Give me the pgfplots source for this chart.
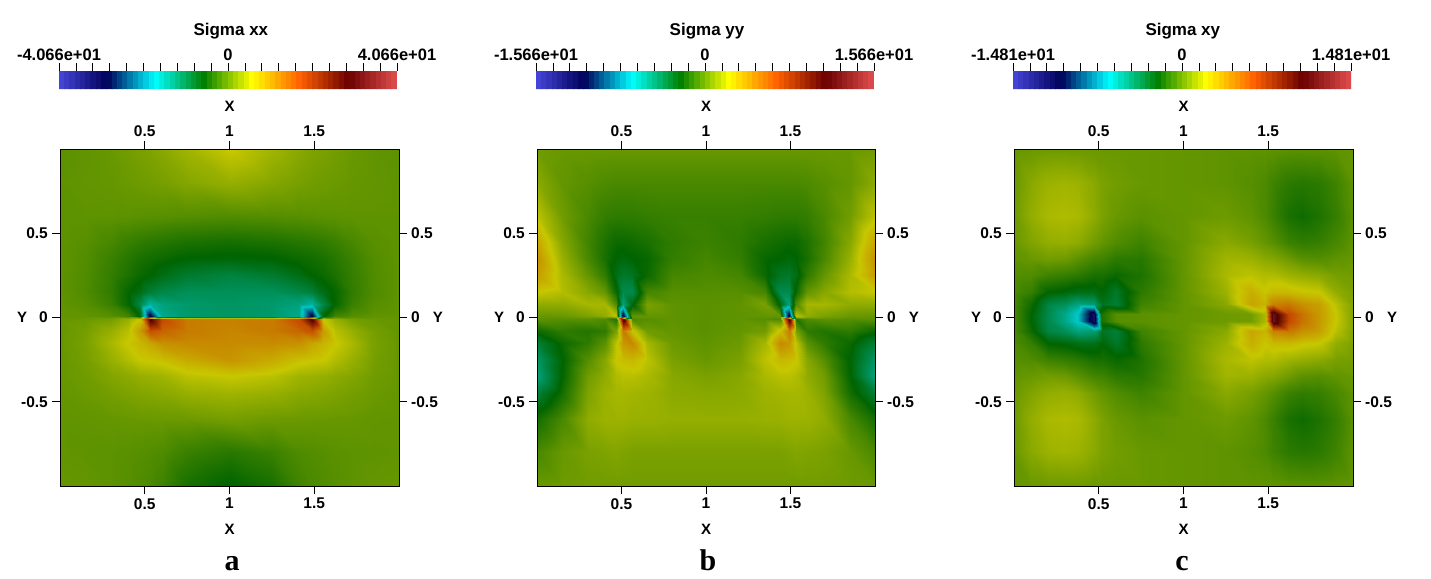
\documentclass[border=0pt]{standalone}
\usepackage{fontspec}
\setmainfont{Liberation Sans}
\newfontfamily\capfont{Liberation Serif}
\usepackage{pgfplots}
\usepackage{pgfplotstable}
\pgfplotsset{compat=1.18}

% colour bar map, and the same map dimmed by the lighting for the fields
\pgfplotsset{
  colormap={bright}{rgb255=(71,71,219) rgb255=(0,0,91) rgb255=(0,255,255) rgb255=(0,128,0) rgb255=(255,255,0) rgb255=(255,97,0) rgb255=(107,0,0) rgb255=(224,77,77)},
  colormap={dim}{rgb255=(55,55,171) rgb255=(0,0,71) rgb255=(0,199,199) rgb255=(0,100,0) rgb255=(199,199,0) rgb255=(199,76,0) rgb255=(83,0,0) rgb255=(175,60,60)},
  panel/.style={
    scale only axis, xmin=0, xmax=2, ymin=-1, ymax=1,
    xtick={0.5,1,1.5}, xticklabels={0.5,1,1.5},
    ytick={-0.5,0,0.5}, yticklabels={-0.5,0,0.5},
    tick align=outside, major tick length=8pt,
    tick style={black, line width=0.8pt},
    axis line style={black, line width=0.9pt},
    tick label style={font=\fontsize{15.5}{15.5}\selectfont\bfseries, inner sep=4pt},
    label style={font=\fontsize{15}{15}\selectfont\bfseries},
  },
  bar/.style={
    colorbar horizontal,
    colormap name=bright,
    colorbar sampled={surf, shader=flat, samples=65},
    colorbar style={
      scale only axis, at={(-0.003,1.178)}, anchor=south west,
      height=18pt,
      xtick pos=upper, xticklabel pos=upper, ytick=\empty,
      tick align=outside, major tick length=8pt,
      tick style={black, line width=0.7pt},
      axis line style={draw=none},
      xticklabel style={font=\fontsize{16.5}{16.5}\selectfont\bfseries, inner sep=2pt},
    },
  },
}

\pgfplotstableread[row sep=crcr]{
x y v\\
0 1 -0.5\\0.15 1 -0.2\\0.3 1 0.3\\0.4 1 0.9\\0.47 1 1.3\\0.53 1 1.6\\0.6 1 2.2\\0.75 1 3.6\\1 1 6\\1.25 1 3.6\\1.41 1 2.2\\1.485 1 1.6\\1.55 1 1.3\\1.62 1 0.9\\1.72 1 0.3\\1.85 1 -0.2\\2 1 -0.5\\
0 0.8 -0.3\\0.15 0.8 -0.1\\0.3 0.8 0.1\\0.4 0.8 0.4\\0.47 0.8 0.6\\0.53 0.8 0.8\\0.6 0.8 1.1\\0.75 0.8 1.9\\1 0.8 2.9\\1.25 0.8 1.9\\1.41 0.8 1.1\\1.485 0.8 0.8\\1.55 0.8 0.6\\1.62 0.8 0.4\\1.72 0.8 0.1\\1.85 0.8 -0.1\\2 0.8 -0.3\\
0 0.6 -0.3\\0.15 0.6 -0.3\\0.3 0.6 -0.3\\0.4 0.6 -0.4\\0.47 0.6 -0.5\\0.53 0.6 -0.6\\0.6 0.6 -0.7\\0.75 0.6 -0.9\\1 0.6 -1.1\\1.25 0.6 -0.9\\1.41 0.6 -0.7\\1.485 0.6 -0.6\\1.55 0.6 -0.5\\1.62 0.6 -0.4\\1.72 0.6 -0.3\\1.85 0.6 -0.3\\2 0.6 -0.3\\
0 0.45 -0.3\\0.15 0.45 -0.7\\0.3 0.45 -1.7\\0.4 0.45 -2.6\\0.47 0.45 -3.1\\0.53 0.45 -3.4\\0.6 0.45 -3.7\\0.75 0.45 -4.2\\1 0.45 -4.6\\1.25 0.45 -4.2\\1.41 0.45 -3.7\\1.485 0.45 -3.4\\1.55 0.45 -3.1\\1.62 0.45 -2.6\\1.72 0.45 -1.7\\1.85 0.45 -0.7\\2 0.45 -0.3\\
0 0.35 -0.3\\0.15 0.35 -1\\0.3 0.35 -2.5\\0.4 0.35 -3.6\\0.47 0.35 -4.4\\0.53 0.35 -4.8\\0.6 0.35 -5.2\\0.75 0.35 -6\\1 0.35 -6.3\\1.25 0.35 -6\\1.41 0.35 -5.2\\1.485 0.35 -4.8\\1.55 0.35 -4.4\\1.62 0.35 -3.6\\1.72 0.35 -2.5\\1.85 0.35 -1\\2 0.35 -0.3\\
0 0.25 -0.3\\0.15 0.25 -1.1\\0.3 0.25 -2.8\\0.4 0.25 -4.2\\0.47 0.25 -5.2\\0.53 0.25 -5.8\\0.6 0.25 -7\\0.75 0.25 -8.5\\1 0.25 -9.5\\1.25 0.25 -8.5\\1.41 0.25 -7\\1.485 0.25 -5.8\\1.55 0.25 -5.2\\1.62 0.25 -4.2\\1.72 0.25 -2.8\\1.85 0.25 -1.1\\2 0.25 -0.3\\
0 0.15 -0.3\\0.15 0.15 -1.2\\0.3 0.15 -3\\0.4 0.15 -5.5\\0.47 0.15 -7\\0.53 0.15 -9\\0.6 0.15 -10\\0.75 0.15 -11\\1 0.15 -11\\1.25 0.15 -11\\1.41 0.15 -10\\1.485 0.15 -9\\1.55 0.15 -7\\1.62 0.15 -5.5\\1.72 0.15 -3\\1.85 0.15 -1.2\\2 0.15 -0.3\\
0 0.08 -0.2\\0.15 0.08 -0.8\\0.3 0.08 -2.5\\0.4 0.08 -5.5\\0.47 0.08 -10\\0.53 0.08 -15\\0.6 0.08 -13\\0.75 0.08 -12\\1 0.08 -11.5\\1.25 0.08 -12\\1.41 0.08 -13\\1.485 0.08 -15\\1.55 0.08 -10\\1.62 0.08 -5.5\\1.72 0.08 -2.5\\1.85 0.08 -0.8\\2 0.08 -0.2\\
0 0.006 -0.1\\0.15 0.006 -0.2\\0.3 0.006 -0.8\\0.4 0.006 -2\\0.47 0.006 -6\\0.53 0.006 -30\\0.6 0.006 -14\\0.75 0.006 -12\\1 0.006 -11.5\\1.25 0.006 -12\\1.41 0.006 -14\\1.485 0.006 -30\\1.55 0.006 -6\\1.62 0.006 -2\\1.72 0.006 -0.8\\1.85 0.006 -0.2\\2 0.006 -0.1\\
0 -0.006 0.1\\0.15 -0.006 0.3\\0.3 -0.006 1\\0.4 -0.006 3\\0.47 -0.006 6\\0.53 -0.006 30\\0.6 -0.006 18\\0.75 -0.006 13\\1 -0.006 12.5\\1.25 -0.006 13\\1.41 -0.006 18\\1.485 -0.006 30\\1.55 -0.006 6\\1.62 -0.006 3\\1.72 -0.006 1\\1.85 -0.006 0.3\\2 -0.006 0.1\\
0 -0.08 0\\0.15 -0.08 1\\0.3 -0.08 3\\0.4 -0.08 5\\0.47 -0.08 10\\0.53 -0.08 17\\0.6 -0.08 15\\0.75 -0.08 13\\1 -0.08 12\\1.25 -0.08 13\\1.41 -0.08 15\\1.485 -0.08 17\\1.55 -0.08 10\\1.62 -0.08 5\\1.72 -0.08 3\\1.85 -0.08 1\\2 -0.08 0\\
0 -0.15 0.1\\0.15 -0.15 1.2\\0.3 -0.15 4\\0.4 -0.15 6\\0.47 -0.15 7.5\\0.53 -0.15 9\\0.6 -0.15 11\\0.75 -0.15 11.5\\1 -0.15 11.5\\1.25 -0.15 11.5\\1.41 -0.15 11\\1.485 -0.15 9\\1.55 -0.15 7.5\\1.62 -0.15 6\\1.72 -0.15 4\\1.85 -0.15 1.2\\2 -0.15 0.1\\
0 -0.25 0.1\\0.15 -0.25 1\\0.3 -0.25 3\\0.4 -0.25 4.5\\0.47 -0.25 5.8\\0.53 -0.25 6\\0.6 -0.25 6.5\\0.75 -0.25 8.5\\1 -0.25 10.5\\1.25 -0.25 8.5\\1.41 -0.25 6.5\\1.485 -0.25 6\\1.55 -0.25 5.8\\1.62 -0.25 4.5\\1.72 -0.25 3\\1.85 -0.25 1\\2 -0.25 0.1\\
0 -0.35 0.1\\0.15 -0.35 0.7\\0.3 -0.35 1.8\\0.4 -0.35 2.4\\0.47 -0.35 2.9\\0.53 -0.35 3.2\\0.6 -0.35 3.5\\0.75 -0.35 5\\1 -0.35 5.8\\1.25 -0.35 5\\1.41 -0.35 3.5\\1.485 -0.35 3.2\\1.55 -0.35 2.9\\1.62 -0.35 2.4\\1.72 -0.35 1.8\\1.85 -0.35 0.7\\2 -0.35 0.1\\
0 -0.45 0\\0.15 -0.45 0.4\\0.3 -0.45 1\\0.4 -0.45 1.5\\0.47 -0.45 1.8\\0.53 -0.45 2\\0.6 -0.45 2.2\\0.75 -0.45 3\\1 -0.45 3.5\\1.25 -0.45 3\\1.41 -0.45 2.2\\1.485 -0.45 2\\1.55 -0.45 1.8\\1.62 -0.45 1.5\\1.72 -0.45 1\\1.85 -0.45 0.4\\2 -0.45 0\\
0 -0.6 -0.2\\0.15 -0.6 -0.1\\0.3 -0.6 0.1\\0.4 -0.6 0.2\\0.47 -0.6 0.3\\0.53 -0.6 0.3\\0.6 -0.6 0.4\\0.75 -0.6 0.5\\1 -0.6 1\\1.25 -0.6 0.5\\1.41 -0.6 0.4\\1.485 -0.6 0.3\\1.55 -0.6 0.3\\1.62 -0.6 0.2\\1.72 -0.6 0.1\\1.85 -0.6 -0.1\\2 -0.6 -0.2\\
0 -0.8 -0.2\\0.15 -0.8 -0.3\\0.3 -0.8 -0.4\\0.4 -0.8 -0.6\\0.47 -0.8 -0.8\\0.53 -0.8 -1\\0.6 -0.8 -1.2\\0.75 -0.8 -2.5\\1 -0.8 -3.5\\1.25 -0.8 -2.5\\1.41 -0.8 -1.2\\1.485 -0.8 -1\\1.55 -0.8 -0.8\\1.62 -0.8 -0.6\\1.72 -0.8 -0.4\\1.85 -0.8 -0.3\\2 -0.8 -0.2\\
0 -1 0.2\\0.15 -1 0\\0.3 -1 -0.4\\0.4 -1 -0.8\\0.47 -1 -1.2\\0.53 -1 -1.5\\0.6 -1 -2.2\\0.75 -1 -4.5\\1 -1 -6\\1.25 -1 -4.5\\1.41 -1 -2.2\\1.485 -1 -1.5\\1.55 -1 -1.2\\1.62 -1 -0.8\\1.72 -1 -0.4\\1.85 -1 0\\2 -1 0.2\\
}\tableA

\pgfplotstableread[row sep=crcr]{
x y v\\
0 1 0.3\\0.15 1 0.1\\0.3 1 0.1\\0.4 1 0.1\\0.47 1 0.1\\0.51 1 0.1\\0.56 1 0.1\\0.65 1 0.1\\0.8 1 0.1\\1 1 0.1\\1.2 1 0.1\\1.35 1 0.1\\1.44 1 0.1\\1.49 1 0.1\\1.53 1 0.1\\1.6 1 0.1\\1.7 1 0.1\\1.85 1 0.1\\2 1 0.3\\
0 0.8 0.9\\0.15 0.8 0\\0.3 0.8 -0.3\\0.4 0.8 -0.5\\0.47 0.8 -0.6\\0.51 0.8 -0.6\\0.56 0.8 -0.6\\0.65 0.8 -0.6\\0.8 0.8 -0.6\\1 0.8 -0.6\\1.2 0.8 -0.6\\1.35 0.8 -0.6\\1.44 0.8 -0.6\\1.49 0.8 -0.6\\1.53 0.8 -0.6\\1.6 0.8 -0.5\\1.7 0.8 -0.3\\1.85 0.8 0\\2 0.8 0.9\\
0 0.6 2\\0.15 0.6 0.3\\0.3 0.6 -0.6\\0.4 0.6 -1.1\\0.47 0.6 -1.2\\0.51 0.6 -1.2\\0.56 0.6 -1.2\\0.65 0.6 -1.1\\0.8 0.6 -1\\1 0.6 -1\\1.2 0.6 -1\\1.35 0.6 -1.1\\1.44 0.6 -1.2\\1.49 0.6 -1.2\\1.53 0.6 -1.2\\1.6 0.6 -1.1\\1.7 0.6 -0.6\\1.85 0.6 0.3\\2 0.6 2\\
0 0.45 3.5\\0.15 0.45 0.8\\0.3 0.45 -0.8\\0.4 0.45 -1.6\\0.47 0.45 -2\\0.51 0.45 -2\\0.56 0.45 -1.9\\0.65 0.45 -1.7\\0.8 0.45 -1.2\\1 0.45 -0.9\\1.2 0.45 -1.2\\1.35 0.45 -1.7\\1.44 0.45 -1.9\\1.49 0.45 -2\\1.53 0.45 -2\\1.6 0.45 -1.6\\1.7 0.45 -0.8\\1.85 0.45 0.8\\2 0.45 3.5\\
0 0.35 4.2\\0.15 0.35 1.2\\0.3 0.35 -0.6\\0.4 0.35 -1.7\\0.47 0.35 -2.3\\0.51 0.35 -2.5\\0.56 0.35 -2.3\\0.65 0.35 -2.1\\0.8 0.35 -1.1\\1 0.35 -0.7\\1.2 0.35 -1.1\\1.35 0.35 -2.1\\1.44 0.35 -2.3\\1.49 0.35 -2.5\\1.53 0.35 -2.3\\1.6 0.35 -1.7\\1.7 0.35 -0.6\\1.85 0.35 1.2\\2 0.35 4.2\\
0 0.25 3.8\\0.15 0.25 1.6\\0.3 0.25 0\\0.4 0.25 -1.2\\0.47 0.25 -2.7\\0.51 0.25 -3.2\\0.56 0.25 -3\\0.65 0.25 -2\\0.8 0.25 -0.7\\1 0.25 -0.5\\1.2 0.25 -0.7\\1.35 0.25 -2\\1.44 0.25 -3\\1.49 0.25 -3.2\\1.53 0.25 -2.7\\1.6 0.25 -1.2\\1.7 0.25 0\\1.85 0.25 1.6\\2 0.25 3.8\\
0 0.15 2.2\\0.15 0.15 1.8\\0.3 0.15 0.8\\0.4 0.15 0\\0.47 0.15 -2\\0.51 0.15 -4\\0.56 0.15 -4\\0.65 0.15 -0.7\\0.8 0.15 -0.3\\1 0.15 -0.3\\1.2 0.15 -0.3\\1.35 0.15 -0.7\\1.44 0.15 -4\\1.49 0.15 -4\\1.53 0.15 -2\\1.6 0.15 0\\1.7 0.15 0.8\\1.85 0.15 1.8\\2 0.15 2.2\\
0 0.08 1\\0.15 0.08 1\\0.3 0.08 1.5\\0.4 0.08 1.5\\0.47 0.08 -0.5\\0.51 0.08 -5\\0.56 0.08 -2.5\\0.65 0.08 0.5\\0.8 0.08 -0.1\\1 0.08 -0.2\\1.2 0.08 -0.1\\1.35 0.08 0.5\\1.44 0.08 -2.5\\1.49 0.08 -5\\1.53 0.08 -0.5\\1.6 0.08 1.5\\1.7 0.08 1.5\\1.85 0.08 1\\2 0.08 1\\
0 0.006 0\\0.15 0.006 0.1\\0.3 0.006 0.5\\0.4 0.006 1\\0.47 0.006 2\\0.51 0.006 -12\\0.56 0.006 0\\0.65 0.006 0\\0.8 0.006 -0.1\\1 0.006 -0.2\\1.2 0.006 -0.1\\1.35 0.006 0\\1.44 0.006 0\\1.49 0.006 -12\\1.53 0.006 2\\1.6 0.006 1\\1.7 0.006 0.5\\1.85 0.006 0.1\\2 0.006 0\\
0 -0.006 -0.2\\0.15 -0.006 -0.3\\0.3 -0.006 -0.2\\0.4 -0.006 -0.5\\0.47 -0.006 -1.5\\0.51 -0.006 12\\0.56 -0.006 -0.5\\0.65 -0.006 -0.3\\0.8 -0.006 -0.1\\1 -0.006 -0.2\\1.2 -0.006 -0.1\\1.35 -0.006 -0.3\\1.44 -0.006 -0.5\\1.49 -0.006 12\\1.53 -0.006 -1.5\\1.6 -0.006 -0.5\\1.7 -0.006 -0.2\\1.85 -0.006 -0.3\\2 -0.006 -0.2\\
0 -0.08 -2\\0.15 -0.08 -1.2\\0.3 -0.08 -1.5\\0.4 -0.08 -1.2\\0.47 -0.08 0.5\\0.51 -0.08 5\\0.56 -0.08 2.5\\0.65 -0.08 0.3\\0.8 -0.08 0\\1 -0.08 -0.2\\1.2 -0.08 0\\1.35 -0.08 0.3\\1.44 -0.08 2.5\\1.49 -0.08 5\\1.53 -0.08 0.5\\1.6 -0.08 -1.2\\1.7 -0.08 -1.5\\1.85 -0.08 -1.2\\2 -0.08 -2\\
0 -0.15 -3.5\\0.15 -0.15 -2\\0.3 -0.15 -1.2\\0.4 -0.15 -0.2\\0.47 -0.15 2\\0.51 -0.15 4\\0.56 -0.15 4.5\\0.65 -0.15 1.5\\0.8 -0.15 0.2\\1 -0.15 -0.1\\1.2 -0.15 0.2\\1.35 -0.15 1.5\\1.44 -0.15 4.5\\1.49 -0.15 4\\1.53 -0.15 2\\1.6 -0.15 -0.2\\1.7 -0.15 -1.2\\1.85 -0.15 -2\\2 -0.15 -3.5\\
0 -0.25 -4.5\\0.15 -0.25 -2.3\\0.3 -0.25 -0.3\\0.4 -0.25 0.8\\0.47 -0.25 2.3\\0.51 -0.25 2.6\\0.56 -0.25 2.8\\0.65 -0.25 2\\0.8 -0.25 0.5\\1 -0.25 0.1\\1.2 -0.25 0.5\\1.35 -0.25 2\\1.44 -0.25 2.8\\1.49 -0.25 2.6\\1.53 -0.25 2.3\\1.6 -0.25 0.8\\1.7 -0.25 -0.3\\1.85 -0.25 -2.3\\2 -0.25 -4.5\\
0 -0.35 -5\\0.15 -0.35 -2.2\\0.3 -0.35 0.3\\0.4 -0.35 1\\0.47 -0.35 1.7\\0.51 -0.35 1.9\\0.56 -0.35 1.9\\0.65 -0.35 1.6\\0.8 -0.35 0.8\\1 -0.35 0.5\\1.2 -0.35 0.8\\1.35 -0.35 1.6\\1.44 -0.35 1.9\\1.49 -0.35 1.9\\1.53 -0.35 1.7\\1.6 -0.35 1\\1.7 -0.35 0.3\\1.85 -0.35 -2.2\\2 -0.35 -5\\
0 -0.45 -3.5\\0.15 -0.45 -1.8\\0.3 -0.45 0.6\\0.4 -0.45 1.3\\0.47 -0.45 1.5\\0.51 -0.45 1.5\\0.56 -0.45 1.4\\0.65 -0.45 1.3\\0.8 -0.45 0.9\\1 -0.45 0.8\\1.2 -0.45 0.9\\1.35 -0.45 1.3\\1.44 -0.45 1.4\\1.49 -0.45 1.5\\1.53 -0.45 1.5\\1.6 -0.45 1.3\\1.7 -0.45 0.6\\1.85 -0.45 -1.8\\2 -0.45 -3.5\\
0 -0.6 -1.8\\0.15 -0.6 -0.6\\0.3 -0.6 1\\0.4 -0.6 1.3\\0.47 -0.6 1.3\\0.51 -0.6 1.3\\0.56 -0.6 1.2\\0.65 -0.6 1.2\\0.8 -0.6 1.1\\1 -0.6 1.1\\1.2 -0.6 1.1\\1.35 -0.6 1.2\\1.44 -0.6 1.2\\1.49 -0.6 1.3\\1.53 -0.6 1.3\\1.6 -0.6 1.3\\1.7 -0.6 1\\1.85 -0.6 -0.6\\2 -0.6 -1.8\\
0 -0.8 -0.6\\0.15 -0.8 0.1\\0.3 -0.8 0.5\\0.4 -0.8 0.6\\0.47 -0.8 0.7\\0.51 -0.8 0.6\\0.56 -0.8 0.5\\0.65 -0.8 0.5\\0.8 -0.8 0.5\\1 -0.8 0.5\\1.2 -0.8 0.5\\1.35 -0.8 0.5\\1.44 -0.8 0.5\\1.49 -0.8 0.6\\1.53 -0.8 0.7\\1.6 -0.8 0.6\\1.7 -0.8 0.5\\1.85 -0.8 0.1\\2 -0.8 -0.6\\
0 -1 0.1\\0.15 -1 0.2\\0.3 -1 0.3\\0.4 -1 0.3\\0.47 -1 0.3\\0.51 -1 0.3\\0.56 -1 0.3\\0.65 -1 0.3\\0.8 -1 0.3\\1 -1 0.3\\1.2 -1 0.3\\1.35 -1 0.3\\1.44 -1 0.3\\1.49 -1 0.3\\1.53 -1 0.3\\1.6 -1 0.3\\1.7 -1 0.3\\1.85 -1 0.2\\2 -1 0.1\\
}\tableB

\pgfplotstableread[row sep=crcr]{
x y v\\
0 1 0\\0.1 1 0.1\\0.2 1 0.2\\0.3 1 0.2\\0.38 1 0.2\\0.47 1 0.1\\0.52 1 0.1\\0.6 1 0.1\\0.75 1 0.1\\1 1 0\\1.25 1 -0.1\\1.4 1 -0.1\\1.48 1 -0.1\\1.525 1 -0.1\\1.62 1 -0.2\\1.7 1 -0.2\\1.8 1 -0.2\\1.9 1 -0.1\\2 1 0\\
0 0.8 0.1\\0.1 0.8 0.8\\0.2 0.8 1.2\\0.3 0.8 1.3\\0.38 0.8 1.2\\0.47 0.8 0.8\\0.52 0.8 0.5\\0.6 0.8 0.3\\0.75 0.8 0.1\\1 0.8 0\\1.25 0.8 -0.1\\1.4 0.8 -0.3\\1.48 0.8 -0.5\\1.525 0.8 -0.8\\1.62 0.8 -1.2\\1.7 0.8 -1.3\\1.8 0.8 -1.2\\1.9 0.8 -0.8\\2 0.8 -0.1\\
0 0.6 0.2\\0.1 0.6 1\\0.2 0.6 1.5\\0.3 0.6 1.6\\0.38 0.6 1.5\\0.47 0.6 0.9\\0.52 0.6 0.5\\0.6 0.6 0.1\\0.75 0.6 -0.2\\1 0.6 0\\1.25 0.6 0.2\\1.4 0.6 -0.1\\1.48 0.6 -0.5\\1.525 0.6 -0.9\\1.62 0.6 -1.6\\1.7 0.6 -1.8\\1.8 0.6 -1.5\\1.9 0.6 -1\\2 0.6 -0.2\\
0 0.45 0.1\\0.1 0.45 0.6\\0.2 0.45 1\\0.3 0.45 1.1\\0.38 0.45 0.9\\0.47 0.45 0.3\\0.52 0.45 0\\0.6 0.45 -0.4\\0.75 0.45 -0.8\\1 0.45 0\\1.25 0.45 0.8\\1.4 0.45 0.4\\1.48 0.45 0\\1.525 0.45 -0.3\\1.62 0.45 -0.9\\1.7 0.45 -1.1\\1.8 0.45 -1\\1.9 0.45 -0.6\\2 0.45 -0.1\\
0 0.35 -0.1\\0.1 0.35 0.1\\0.2 0.35 0.3\\0.3 0.35 0.2\\0.38 0.35 -0.2\\0.47 0.35 -0.7\\0.52 0.35 -0.8\\0.6 0.35 -1.2\\0.75 0.35 -1.3\\1 0.35 0\\1.25 0.35 1.3\\1.4 0.35 1.2\\1.48 0.35 0.8\\1.525 0.35 0.7\\1.62 0.35 0.2\\1.7 0.35 -0.2\\1.8 0.35 -0.3\\1.9 0.35 -0.1\\2 0.35 0.1\\
0 0.25 -0.3\\0.1 0.25 -0.4\\0.2 0.25 -0.8\\0.3 0.25 -1\\0.38 0.25 -1.2\\0.47 0.25 -1.6\\0.52 0.25 -1.6\\0.6 0.25 -1.9\\0.75 0.25 -1.5\\1 0.25 0\\1.25 0.25 1.5\\1.4 0.25 1.9\\1.48 0.25 1.6\\1.525 0.25 1.6\\1.62 0.25 1.2\\1.7 0.25 1\\1.8 0.25 0.8\\1.9 0.25 0.4\\2 0.25 0.3\\
0 0.15 -0.5\\0.1 0.15 -1\\0.2 0.15 -2.1\\0.3 0.15 -2.3\\0.38 0.15 -2.6\\0.47 0.15 -2.6\\0.52 0.15 -2.2\\0.6 0.15 -3\\0.75 0.15 -1.2\\1 0.15 0\\1.25 0.15 1.2\\1.4 0.15 3\\1.48 0.15 2.2\\1.525 0.15 2.6\\1.62 0.15 2.6\\1.7 0.15 2.3\\1.8 0.15 2.1\\1.9 0.15 1\\2 0.15 0.5\\
0 0.08 -0.6\\0.1 0.08 -1.8\\0.2 0.08 -3.5\\0.3 0.08 -4\\0.38 0.08 -4.8\\0.47 0.08 -4.5\\0.52 0.08 -2.8\\0.6 0.08 -3.3\\0.75 0.08 -0.8\\1 0.08 0\\1.25 0.08 0.8\\1.4 0.08 3.3\\1.48 0.08 2.8\\1.525 0.08 4.5\\1.62 0.08 4.8\\1.7 0.08 4\\1.8 0.08 3.5\\1.9 0.08 1.8\\2 0.08 0.6\\
0 0.02 -0.6\\0.1 0.02 -2.1\\0.2 0.02 -3.7\\0.3 0.02 -5\\0.38 0.02 -6.5\\0.47 0.02 -12\\0.52 0.02 -1.5\\0.6 0.02 -0.3\\0.75 0.02 -0.2\\1 0.02 0\\1.25 0.02 0.2\\1.4 0.02 0.3\\1.48 0.02 1.5\\1.525 0.02 12\\1.62 0.02 6.5\\1.7 0.02 5\\1.8 0.02 3.7\\1.9 0.02 2.1\\2 0.02 0.6\\
0 -0.02 -0.6\\0.1 -0.02 -2.1\\0.2 -0.02 -3.7\\0.3 -0.02 -5\\0.38 -0.02 -6.5\\0.47 -0.02 -12\\0.52 -0.02 -1.5\\0.6 -0.02 -0.3\\0.75 -0.02 -0.2\\1 -0.02 0\\1.25 -0.02 0.2\\1.4 -0.02 0.3\\1.48 -0.02 1.5\\1.525 -0.02 12\\1.62 -0.02 6.5\\1.7 -0.02 5\\1.8 -0.02 3.7\\1.9 -0.02 2.1\\2 -0.02 0.6\\
0 -0.08 -0.6\\0.1 -0.08 -1.8\\0.2 -0.08 -3.5\\0.3 -0.08 -4\\0.38 -0.08 -4.8\\0.47 -0.08 -4.5\\0.52 -0.08 -2.8\\0.6 -0.08 -3.3\\0.75 -0.08 -0.8\\1 -0.08 0\\1.25 -0.08 0.8\\1.4 -0.08 3.3\\1.48 -0.08 2.8\\1.525 -0.08 4.5\\1.62 -0.08 4.8\\1.7 -0.08 4\\1.8 -0.08 3.5\\1.9 -0.08 1.8\\2 -0.08 0.6\\
0 -0.15 -0.5\\0.1 -0.15 -1\\0.2 -0.15 -2.1\\0.3 -0.15 -2.3\\0.38 -0.15 -2.6\\0.47 -0.15 -2.6\\0.52 -0.15 -2.2\\0.6 -0.15 -3\\0.75 -0.15 -1.2\\1 -0.15 0\\1.25 -0.15 1.2\\1.4 -0.15 3\\1.48 -0.15 2.2\\1.525 -0.15 2.6\\1.62 -0.15 2.6\\1.7 -0.15 2.3\\1.8 -0.15 2.1\\1.9 -0.15 1\\2 -0.15 0.5\\
0 -0.25 -0.3\\0.1 -0.25 -0.4\\0.2 -0.25 -0.8\\0.3 -0.25 -1\\0.38 -0.25 -1.2\\0.47 -0.25 -1.6\\0.52 -0.25 -1.6\\0.6 -0.25 -1.9\\0.75 -0.25 -1.5\\1 -0.25 0\\1.25 -0.25 1.5\\1.4 -0.25 1.9\\1.48 -0.25 1.6\\1.525 -0.25 1.6\\1.62 -0.25 1.2\\1.7 -0.25 1\\1.8 -0.25 0.8\\1.9 -0.25 0.4\\2 -0.25 0.3\\
0 -0.35 -0.1\\0.1 -0.35 0.1\\0.2 -0.35 0.3\\0.3 -0.35 0.2\\0.38 -0.35 -0.2\\0.47 -0.35 -0.7\\0.52 -0.35 -0.8\\0.6 -0.35 -1.2\\0.75 -0.35 -1.3\\1 -0.35 0\\1.25 -0.35 1.3\\1.4 -0.35 1.2\\1.48 -0.35 0.8\\1.525 -0.35 0.7\\1.62 -0.35 0.2\\1.7 -0.35 -0.2\\1.8 -0.35 -0.3\\1.9 -0.35 -0.1\\2 -0.35 0.1\\
0 -0.45 0.1\\0.1 -0.45 0.6\\0.2 -0.45 1\\0.3 -0.45 1.1\\0.38 -0.45 0.9\\0.47 -0.45 0.3\\0.52 -0.45 0\\0.6 -0.45 -0.4\\0.75 -0.45 -0.8\\1 -0.45 0\\1.25 -0.45 0.8\\1.4 -0.45 0.4\\1.48 -0.45 0\\1.525 -0.45 -0.3\\1.62 -0.45 -0.9\\1.7 -0.45 -1.1\\1.8 -0.45 -1\\1.9 -0.45 -0.6\\2 -0.45 -0.1\\
0 -0.6 0.2\\0.1 -0.6 1\\0.2 -0.6 1.5\\0.3 -0.6 1.6\\0.38 -0.6 1.5\\0.47 -0.6 0.9\\0.52 -0.6 0.5\\0.6 -0.6 0.1\\0.75 -0.6 -0.2\\1 -0.6 0\\1.25 -0.6 0.2\\1.4 -0.6 -0.1\\1.48 -0.6 -0.5\\1.525 -0.6 -0.9\\1.62 -0.6 -1.6\\1.7 -0.6 -1.8\\1.8 -0.6 -1.5\\1.9 -0.6 -1\\2 -0.6 -0.2\\
0 -0.8 0.1\\0.1 -0.8 0.8\\0.2 -0.8 1.2\\0.3 -0.8 1.3\\0.38 -0.8 1.2\\0.47 -0.8 0.8\\0.52 -0.8 0.5\\0.6 -0.8 0.3\\0.75 -0.8 0.1\\1 -0.8 0\\1.25 -0.8 -0.1\\1.4 -0.8 -0.3\\1.48 -0.8 -0.5\\1.525 -0.8 -0.8\\1.62 -0.8 -1.2\\1.7 -0.8 -1.3\\1.8 -0.8 -1.2\\1.9 -0.8 -0.8\\2 -0.8 -0.1\\
0 -1 0\\0.1 -1 0.1\\0.2 -1 0.2\\0.3 -1 0.2\\0.38 -1 0.2\\0.47 -1 0.1\\0.52 -1 0.1\\0.6 -1 0.1\\0.75 -1 0.1\\1 -1 0\\1.25 -1 -0.1\\1.4 -1 -0.1\\1.48 -1 -0.1\\1.525 -1 -0.1\\1.62 -1 -0.2\\1.7 -1 -0.2\\1.8 -1 -0.2\\1.9 -1 -0.1\\2 -1 0\\
}\tableC

\newcommand{\panel}[7]{%
% #1 left, #2 width, #3 table, #4 range, #5 label text, #6 title, #7 title x
\begin{axis}[panel, at={(#1pt,92pt)}, anchor=south west, width=#2pt, height=337pt,
  view={0}{90}, ztick=\empty,
  xticklabel pos=lower, yticklabel pos=left,
  xlabel={X}, ylabel={Y},
  xlabel style={at={(0.5,-0.128)}, anchor=center},
  ylabel style={at={(-0.112,0.5)}, anchor=center, rotate=-90},
  point meta min=-#4, point meta max=#4,
  bar,
  colorbar style={
    width=338pt,
    xtick={-1*#4,-0.9*#4,-0.8*#4,-0.7*#4,-0.6*#4,-0.5*#4,-0.4*#4,-0.3*#4,-0.2*#4,-0.1*#4,0,0.1*#4,0.2*#4,0.3*#4,0.4*#4,0.5*#4,0.6*#4,0.7*#4,0.8*#4,0.9*#4,#4},
    xticklabels={-#5,,,,,,,,,,0,,,,,,,,,,#5},
  },
]
\addplot3[surf, shader=interp, colormap name=dim, mesh/rows=18] table[x=x, y=y, z=v] {#3};
\end{axis}
\begin{axis}[panel, at={(#1pt,92pt)}, anchor=south west, width=#2pt, height=337pt,
  xticklabel pos=upper, yticklabel pos=right,
  xlabel={X}, ylabel={Y},
  xlabel style={at={(0.5,1.128)}, anchor=center},
  ylabel style={at={(1.115,0.5)}, anchor=center, rotate=-90},
  title={#6}, title style={at={(#7,1.332)}, anchor=center, font=\fontsize{17}{17}\selectfont\bfseries},
]
\end{axis}}

\begin{document}
\begin{tikzpicture}[x=1pt,y=1pt]
\path[use as bounding box] (0pt,0pt) rectangle (1431pt,578pt);
\panel{60}{339}{\tableA}{40.66}{4.066e+01}{Sigma xx}{0.504}
\panel{537}{338}{\tableB}{15.66}{1.566e+01}{Sigma yy}{0.503}
\panel{1014}{339}{\tableC}{14.81}{1.481e+01}{Sigma xy}{0.498}
\node[anchor=base, font=\capfont\fontsize{30}{30}\selectfont\bfseries] at (232pt,8pt) {a};
\node[anchor=base, font=\capfont\fontsize{30}{30}\selectfont\bfseries] at (708pt,8pt) {b};
\node[anchor=base, font=\capfont\fontsize{30}{30}\selectfont\bfseries] at (1182pt,8pt) {c};
\end{tikzpicture}
\end{document}
